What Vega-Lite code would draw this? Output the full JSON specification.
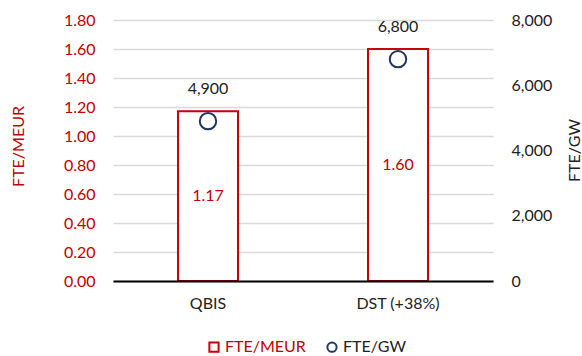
{
  "$schema": "https://vega.github.io/schema/vega-lite/v6.json",
  "width": 380,
  "height": 261,
  "autosize": {"type": "none"},
  "padding": {"left": 113, "top": 20, "right": 89, "bottom": 75},
  "background": "white",
  "config": {
    "font": "Lato",
    "view": {"stroke": null},
    "axis": {"labelFont": "Lato", "titleFont": "Lato", "labelFontSize": 16, "titleFontSize": 16, "titleFontWeight": "normal", "ticks": false}
  },
  "data": {
    "values": [
      {"scenario": "QBIS", "fte_meur": 1.17, "fte_gw": 4900},
      {"scenario": "DST (+38%)", "fte_meur": 1.60, "fte_gw": 6800}
    ]
  },
  "encoding": {
    "x": {
      "field": "scenario",
      "type": "nominal",
      "sort": null,
      "scale": {"paddingInner": 0, "paddingOuter": 0},
      "axis": {
        "title": null,
        "labelAngle": 0,
        "labelColor": "#222222",
        "labelPadding": 14,
        "domainColor": "#000000",
        "domainWidth": 2,
        "zindex": 1
      }
    }
  },
  "layer": [
    {
      "mark": {"type": "bar", "size": 60, "fill": "white", "strokeWidth": 2},
      "encoding": {
        "y": {
          "field": "fte_meur",
          "type": "quantitative",
          "scale": {"domain": [0, 1.8], "nice": false},
          "axis": {
            "title": "FTE/MEUR",
            "titleColor": "#C00000",
            "titleX": -95,
            "titleY": 126,
            "titleAngle": -90,
            "titleBaseline": "middle",
            "titleAlign": "center",
            "values": [0, 0.2, 0.4, 0.6, 0.8, 1.0, 1.2, 1.4, 1.6, 1.8],
            "format": ".2f",
            "labelColor": "#C00000",
            "labelPadding": 18,
            "domain": false,
            "grid": true,
            "gridColor": "#D9D9D9",
            "gridWidth": 1.5
          }
        },
        "stroke": {
          "datum": "FTE/MEUR",
          "type": "nominal",
          "scale": {"domain": ["FTE/MEUR", "FTE/GW"], "range": ["#C8000A", "#1F3864"]},
          "legend": {
            "title": null,
            "orient": "none",
            "direction": "horizontal",
            "legendX": 93,
            "legendY": 319,
            "labelFont": "Lato",
            "labelFontSize": 16,
            "labelOffset": 3,
            "columnPadding": 17,
            "symbolSize": 85,
            "symbolStrokeWidth": 2,
            "symbolFillColor": "white",
            "symbolType": {"expr": "datum.value === 'FTE/MEUR' ? 'square' : 'circle'"},
            "labelColor": {"expr": "datum.value === 'FTE/MEUR' ? '#C00000' : '#222222'"}
          }
        }
      }
    },
    {
      "mark": {"type": "text", "fontSize": 16, "color": "#C00000", "baseline": "middle"},
      "encoding": {
        "y": {
          "field": "fte_meur",
          "type": "quantitative",
          "scale": {"domain": [0, 3.6], "nice": false},
          "axis": null
        },
        "text": {"field": "fte_meur", "type": "quantitative", "format": ".2f"}
      }
    },
    {
      "mark": {"type": "point", "filled": false, "size": 270, "strokeWidth": 2, "fill": "white", "opacity": 1},
      "encoding": {
        "y": {
          "field": "fte_gw",
          "type": "quantitative",
          "scale": {"domain": [0, 8000], "nice": false},
          "axis": {
            "orient": "right",
            "title": "FTE/GW",
            "titleColor": "#222222",
            "titleX": 81,
            "titleY": 130,
            "titleAngle": -90,
            "titleBaseline": "middle",
            "titleAlign": "center",
            "values": [0, 2000, 4000, 6000, 8000],
            "format": ",.0f",
            "labelColor": "#222222",
            "labelPadding": 18,
            "domain": false,
            "grid": false
          }
        },
        "stroke": {"datum": "FTE/GW", "type": "nominal"}
      }
    },
    {
      "mark": {"type": "text", "fontSize": 16, "color": "#222222", "baseline": "middle", "dy": -32},
      "encoding": {
        "y": {
          "field": "fte_gw",
          "type": "quantitative",
          "scale": {"domain": [0, 8000], "nice": false},
          "axis": null
        },
        "text": {"field": "fte_gw", "type": "quantitative", "format": ",.0f"}
      }
    }
  ],
  "resolve": {"scale": {"y": "independent"}}
}
